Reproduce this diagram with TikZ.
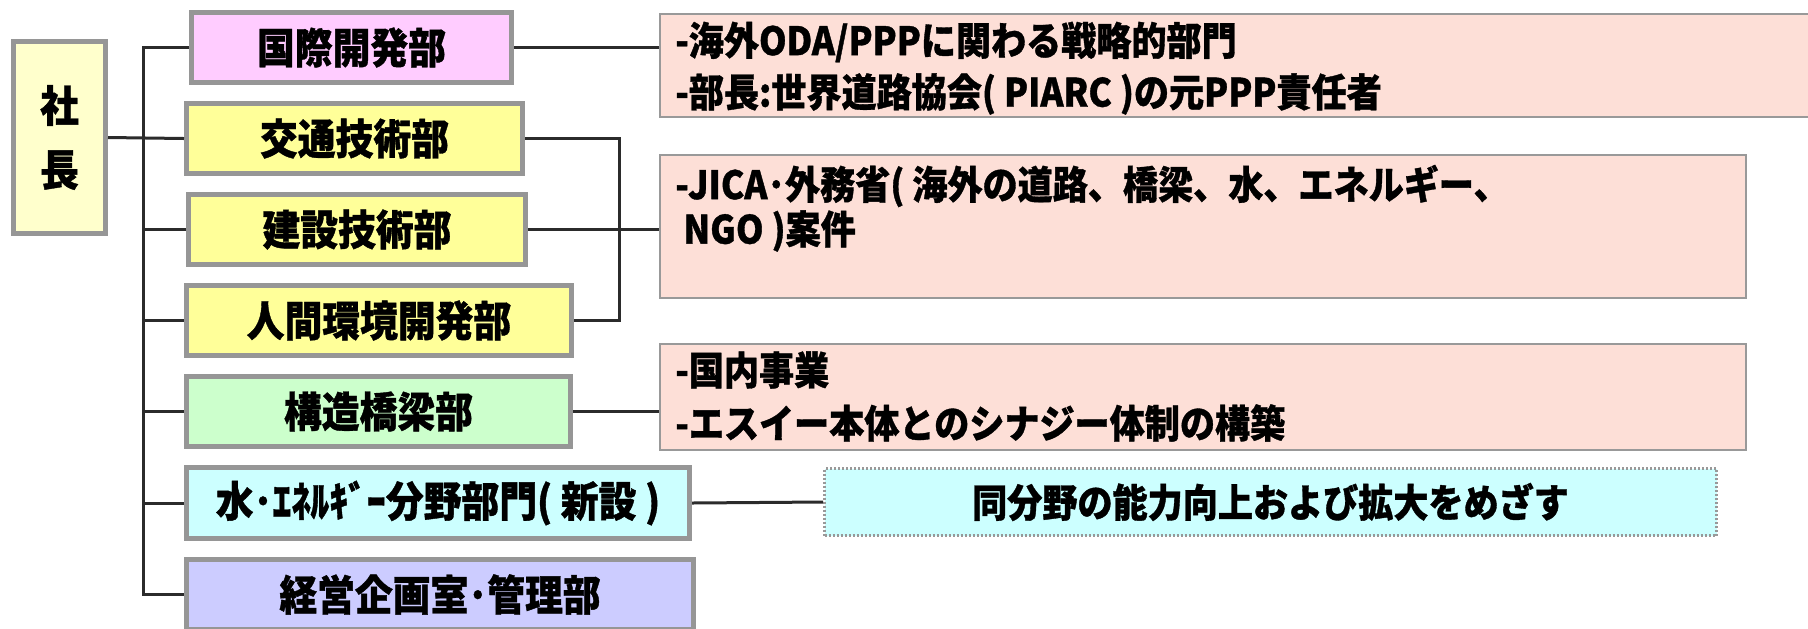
\documentclass[tikz,border=0pt]{standalone}
\usepackage{fontspec}
\setmainfont{Noto Sans CJK JP}[FakeStretch=0.9, BoldFeatures={FakeBold=0.9}]
\definecolor{deptgray}{HTML}{969696}
\definecolor{infogray}{HTML}{999999}
\definecolor{infopink}{HTML}{FDDFD7}
\definecolor{conncol}{HTML}{2B2B2B}
\definecolor{cshacho}{HTML}{FFFFCC}
\definecolor{cpink}{HTML}{FFCCFF}
\definecolor{cyellow}{HTML}{FFFF99}
\definecolor{cgreen}{HTML}{CCFFCC}
\definecolor{ccyan}{HTML}{CCFFFF}
\definecolor{clav}{HTML}{CCCCFF}
\begin{document}
\begin{tikzpicture}[x=0.5pt,y=-0.5pt,
  dept/.style={draw=deptgray, line width=2.5pt, inner sep=0pt, minimum height=35pt, font=\fontsize{21}{24}\selectfont\bfseries},
  info/.style={draw=infogray, line width=1pt, fill=infopink, inner sep=0pt},
  itext/.style={anchor=west, inner sep=0pt, font=\fontsize{19.5}{22}\selectfont\bfseries},
  conn/.style={draw=conncol, line width=1.5pt, line join=miter}]
\useasboundingbox (0,0) rectangle (1808,628);
% departments
\node[dept, fill=cshacho, minimum width=46pt, minimum height=96pt, align=center, font=\fontsize{21.5}{30}\selectfont\bfseries] (shacho) at (59.5,137.5) {社\\[2pt]長};
\node[dept, fill=cpink, minimum width=160pt] (kokusai) at (351.5,47.5) {国際開発部};
\node[dept, fill=cyellow, minimum width=168pt] (kotsu) at (354.5,138.5) {交通技術部};
\node[dept, fill=cyellow, minimum width=168.5pt] (kensetsu) at (357,229.5) {建設技術部};
\node[dept, fill=cyellow, minimum width=192.5pt] (jinkan) at (379,320.5) {人間環境開発部};
\node[dept, fill=cgreen, minimum width=192pt] (kozo) at (378.5,411.5) {構造橋梁部};
\node[dept, fill=ccyan, minimum width=251.5pt, minimum height=35.5pt] (mizu) at (438,503) {水･ｴﾈﾙｷﾞｰ分野部門( 新設 )};
\node[dept, fill=clav, minimum width=253.5pt] (keiei) at (440,594.5) {経営企画室･管理部};
% info boxes
\node[info, minimum width=577pt, minimum height=51.5pt] (info1) at (1237,65.5) {};
\node[info, minimum width=543pt, minimum height=71.5pt] (info2) at (1203,226.5) {};
\node[info, minimum width=543pt, minimum height=53pt] (info3) at (1203,397) {};
\node[draw=infogray, line width=1.5pt, dash pattern=on 1pt off 1pt, fill=ccyan, inner sep=0pt,
      minimum width=446pt, minimum height=33.5pt, font=\fontsize{19.5}{22}\selectfont\bfseries] (dotbox) at (1270.5,502) {同分野の能力向上および拡大をめざす};
% info texts
\node[itext] (t1a) at (675,42) {-海外ODA/PPPに関わる戦略的部門};
\node[itext] (t1b) at (675,94) {-部長:世界道路協会( PIARC )の元PPP責任者};
\node[itext] (t2a) at (675,186) {-JICA･外務省( 海外の道路、橋梁、水、エネルギー、};
\node[itext] (t2b) at (675,231) {\ NGO )案件};
\node[itext] (t3a) at (675,370) {-国内事業};
\node[itext] (t3b) at (675,423) {-エスイー本体とのシナジー体制の構築};
% connectors
\coordinate (trunk) at (143,0);
\coordinate (brk) at (619,0);
\draw[conn] (kokusai.west) -- (kokusai.west -| trunk) -- (keiei.west -| trunk) -- (keiei.west);
\draw[conn] (shacho.east) -- (kotsu.west);
\draw[conn] (kensetsu.west) -- (kensetsu.west -| trunk);
\draw[conn] (jinkan.west) -- (jinkan.west -| trunk);
\draw[conn] (kozo.west) -- (kozo.west -| trunk);
\draw[conn] (mizu.west) -- (mizu.west -| trunk);
\draw[conn] (kotsu.east) -- (kotsu.east -| brk) -- (jinkan.east -| brk) -- (jinkan.east);
\draw[conn] (kensetsu.east) -- (kensetsu.east -| info2.west);
\draw[conn] (kokusai.east) -- (kokusai.east -| info1.west);
\draw[conn] (kozo.east) -- (kozo.east -| info3.west);
\draw[conn] (mizu.east) -- (dotbox.west);
\end{tikzpicture}
\end{document}
